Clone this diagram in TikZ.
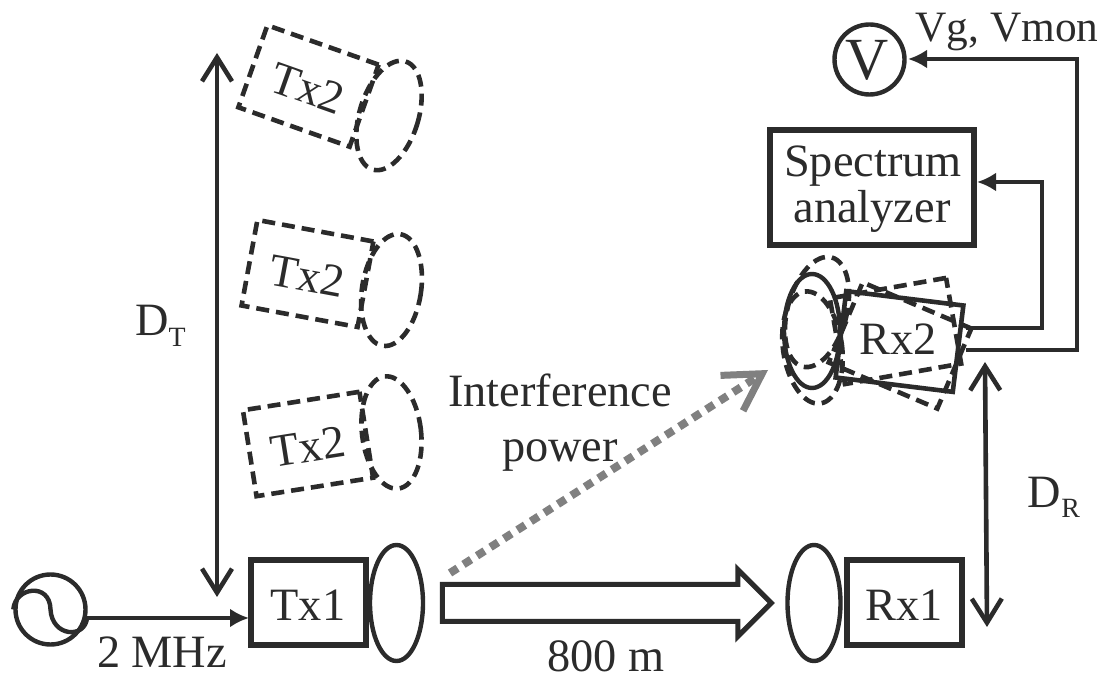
\documentclass[tikz,border=0pt]{standalone}
\usepackage{fontspec}
\setmainfont{Liberation Serif}
\usetikzlibrary{arrows.meta,shapes.geometric,shapes.arrows}
\definecolor{inkgray}{HTML}{2B2B2B}
\definecolor{dotgray}{HTML}{808080}
\newcommand{\bigtext}{\fontsize{46.5}{50}\selectfont}
\tikzset{
  box/.style={draw=inkgray,line join=miter,line width=6bp,minimum width=115bp,minimum height=85bp,inner sep=0pt,text=inkgray,font=\bigtext,text height=36bp,text depth=0pt},
  dbox/.style={draw=inkgray,line join=miter,line width=4.6bp,dash pattern=on 13bp off 7bp,minimum width=118bp,minimum height=87bp,inner sep=0pt,text=inkgray,font=\bigtext,text height=36bp,text depth=0pt},
  lens/.style={draw=inkgray,ellipse,line width=4.4bp,minimum width=53bp,minimum height=116bp,inner sep=0pt},
  dlens/.style={lens,line width=4.6bp,dash pattern=on 12bp off 7bp,minimum width=59bp,minimum height=113bp},
  lbl/.style={text=inkgray,inner sep=0pt,anchor=base,font=\bigtext},
  wire/.style={draw=inkgray,line join=miter,line width=4.6bp,-{Latex[length=19bp,width=19bp]}},
  span/.style={draw=inkgray,line width=4.6bp,{Straight Barb[length=24bp,width=30bp,line width=4.6bp]}-{Straight Barb[length=24bp,width=30bp,line width=4.6bp]}},
}
\begin{document}
\begin{tikzpicture}[>=latex,line join=bevel,]
%%
\useasboundingbox (0bp,0bp) rectangle (1107bp,682bp);
%
\node (tx2_a) at (308.5bp,596bp) [dbox,rotate=-19.5] {Tx2};
  \node (tx2_a_lens) at (389bp,566.5bp) [dlens,rotate=-17] {};
\node (tx2_b) at (307.5bp,408.5bp) [dbox,rotate=-10.5] {Tx2};
  \node (tx2_b_lens) at (391.5bp,392bp) [dlens,rotate=-9] {};
\node (tx2_c) at (308bp,238bp) [dbox,rotate=9] {Tx2};
  \node (tx2_c_lens) at (391.5bp,249.5bp) [dlens,rotate=7] {};
%
\node (tx1) at (308bp,79bp) [box] {Tx1};
  \node (tx1_lens) at (396.5bp,79bp) [lens] {};
\node (rx1) at (904bp,79bp) [box] {Rx1};
  \node (rx1_lens) at (814bp,79bp) [lens] {};
%
\node (rx2_a) at (895.5bp,351bp) [dbox,rotate=10] {};
  \node (rx2_b) at (900bp,336.5bp) [dbox,rotate=-23] {};
  \node (rx2) at (899.5bp,340.5bp) [box,line width=4.6bp,minimum width=118bp,minimum height=87bp,rotate=-7] {};
  \node (rx2_txt) at (898bp,327bp) [lbl] {Rx2};
  \node (rx2_lens_a) at (817bp,370bp) [dlens,rotate=-15] {};
  \node (rx2_lens_b) at (812.5bp,334.5bp) [dlens,rotate=8] {};
  \node (rx2_lens) at (812bp,351bp) [lens,minimum width=56bp,minimum height=114bp] {};
%
\node (src) at (50.5bp,72.5bp) [circle,draw=inkgray,line width=4.4bp,minimum size=70bp,inner sep=0pt] {};
\coordinate (src_out) at (87bp,64bp);
  \draw [draw=inkgray,line width=4.4bp] (src.west) .. controls (15bp,95bp) and (50bp,100bp) .. (src.center) .. controls (52bp,45bp) and (85bp,43bp) .. (src_out);
\coordinate (tx1_in) at (249bp,64bp);
  \draw [wire] (src_out) -- (tx1_in);
\node (freq) at (162bp,15bp) [lbl] {2 MHz};
%
\node (volt) at (869.5bp,622.5bp) [circle,draw=inkgray,line width=4.4bp,minimum size=70bp,inner sep=0pt] {};
  \node (volt_txt) at (867bp,602bp) [lbl,font=\fontsize{60}{60}\selectfont] {V};
  \node (vg) at (1007bp,640bp) [lbl,font=\fontsize{43.5}{44}\selectfont] {Vg, Vmon};
\node (spec) at (872bp,494.5bp) [draw=inkgray,line join=miter,line width=6bp,minimum width=204bp,minimum height=115bp,inner sep=0pt] {};
  \node (spec_a) at (873bp,505bp) [lbl] {Spectrum};
  \node (spec_b) at (872bp,459bp) [lbl] {analyzer};
\coordinate (rx2_out_a) at (966bp,354bp);
  \coordinate (rx2_out_b) at (966bp,332bp);
  \coordinate (spec_in) at (977bp,500bp);
  \coordinate (volt_in) at (908bp,623bp);
  \draw [wire] (rx2_out_a) -- (1042bp,354bp) -- (1042bp,500bp) -- (spec_in);
  \draw [wire] (rx2_out_b) -- (1077bp,332bp) -- (1077bp,623bp) -- (volt_in);
%
\coordinate (dt_top) at (217bp,629bp);
  \coordinate (dt_bot) at (217bp,85bp);
  \draw [span] (dt_bot) -- (dt_top);
  \node (dt) at (160.5bp,346bp) [lbl] {D\raisebox{-11bp}{\fontsize{28}{28}\selectfont T}};
\coordinate (dr_top) at (985bp,320bp);
  \coordinate (dr_bot) at (987bp,55bp);
  \draw [span] (dr_bot) -- (dr_top);
  \node (dr) at (1054bp,174bp) [lbl] {D\raisebox{-10bp}{\fontsize{28}{28}\selectfont R}};
%
\node (power) at (597.5bp,79bp) [single arrow,draw=inkgray,line join=miter,line width=5bp,minimum height=329bp,minimum width=62bp,single arrow head extend=15bp,single arrow tip angle=90,inner xsep=0pt,inner ysep=16bp] {};
  \node (dist) at (606bp,11bp) [lbl] {800 m};
\node (intf_a) at (560bp,275bp) [lbl] {Interference};
  \node (intf_b) at (560bp,220bp) [lbl] {power};
\coordinate (intf_from) at (450bp,109bp);
  \coordinate (intf_to) at (768bp,312bp);
  \draw [draw=dotgray,line width=8bp,dash pattern=on 9bp off 7bp,-{Straight Barb[length=36bp,width=42bp,line width=7bp]}] (intf_from) -- (intf_to);
%
\end{tikzpicture}
\end{document}
